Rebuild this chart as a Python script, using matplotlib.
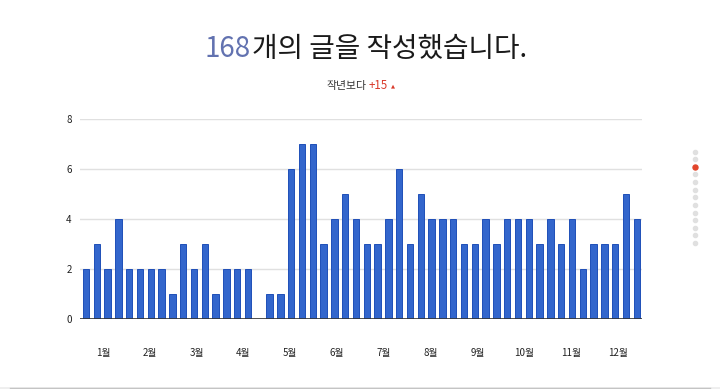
import matplotlib
matplotlib.use("Agg")
import matplotlib.pyplot as plt
from matplotlib.lines import Line2D

plt.rcParams['font.family'] = ['Noto Sans CJK KR', 'DejaVu Sans']

weekly_posts = [2, 3, 2, 4, 2, 2, 2, 2, 1, 3, 2, 3, 1, 2, 2, 2, 0, 1, 1, 6,
                7, 7, 3, 4, 5, 4, 3, 3, 4, 6, 3, 5, 4, 4, 4, 3, 3, 4, 3, 4,
                4, 4, 3, 4, 3, 4, 2, 3, 3, 3, 5, 4]
month_labels = ['1월', '2월', '3월', '4월', '5월', '6월', '7월', '8월', '9월', '10월', '11월', '12월']
y_ticks = [0, 2, 4, 6, 8]
total_posts = 168
diff_prev_year = 15

W, H = 720, 389
fig = plt.figure(figsize=(W / 100, H / 100), dpi=100)
fig.patch.set_facecolor('white')

ax = fig.add_axes([80 / W, 70 / H, (642 - 80) / W, 200 / H])
x = list(range(len(weekly_posts)))
ax.bar(x, weekly_posts, width=0.6, color='#3366cc', edgecolor='#1f4fb8', linewidth=0.7, zorder=3)
ax.set_xlim(-0.555, 51.48)
ax.set_ylim(0, 8)
ax.set_yticks(y_ticks)
ax.yaxis.grid(True, color='#e0e0e0', linewidth=1, zorder=0)
ax.axhline(0, color='#333333', linewidth=1.2, zorder=4)
for s in ax.spines.values():
    s.set_visible(False)
month_pos = [1.57 + i * 52 / 12 for i in range(12)]
ax.set_xticks(month_pos)
ax.set_xticklabels(month_labels)
ax.tick_params(axis='x', length=0, pad=21, labelsize=7, labelcolor='#222222')
ax.tick_params(axis='y', length=0, pad=6, labelsize=7, labelcolor='#222222')

# Title
fig.text(251 / W, 1 - 57 / H, str(total_posts), ha='right', va='baseline',
         fontsize=20, color='#6272b0', fontweight='light')
fig.text(252 / W, 1 - 57 / H, '개의 글을 작성했습니다.', ha='left', va='baseline',
         fontsize=20, color='#1a1a1a', fontweight='light')

# Subtitle
fig.text(367 / W, 1 - 89 / H, '작년보다', ha='right', va='baseline', fontsize=7.8, color='#333333')
fig.text(369 / W, 1 - 89 / H, '+%d' % diff_prev_year, ha='left', va='baseline', fontsize=8.3, color='#d93a2b')
fig.text(391 / W, 1 - 88.5 / H, '▲', ha='left', va='bottom', fontsize=3.8, color='#d93a2b',
         family=['DejaVu Sans'])

# Side navigation dots
for i in range(13):
    yy = 151.7 + i * 7.6
    c = '#e2452b' if i == 2 else '#e0e0e0'
    ms = 3.6 if i == 2 else 3.0
    fig.add_artist(Line2D([695 / W], [1 - yy / H], transform=fig.transFigure,
                          marker='o', markersize=ms, markerfacecolor=c,
                          markeredgecolor=c, linestyle='none', zorder=5))

# bottom scroll strip
fig.add_artist(Line2D([0, 1], [1 - 387.5 / H, 1 - 387.5 / H], transform=fig.transFigure,
                      color='#eeeeee', linewidth=2))
fig.add_artist(Line2D([10 / W, 710 / W], [1 - 388.3 / H, 1 - 388.3 / H], transform=fig.transFigure,
                      color='#c4c4c4', linewidth=1))

fig.savefig('out.png', dpi=100, facecolor='white')
